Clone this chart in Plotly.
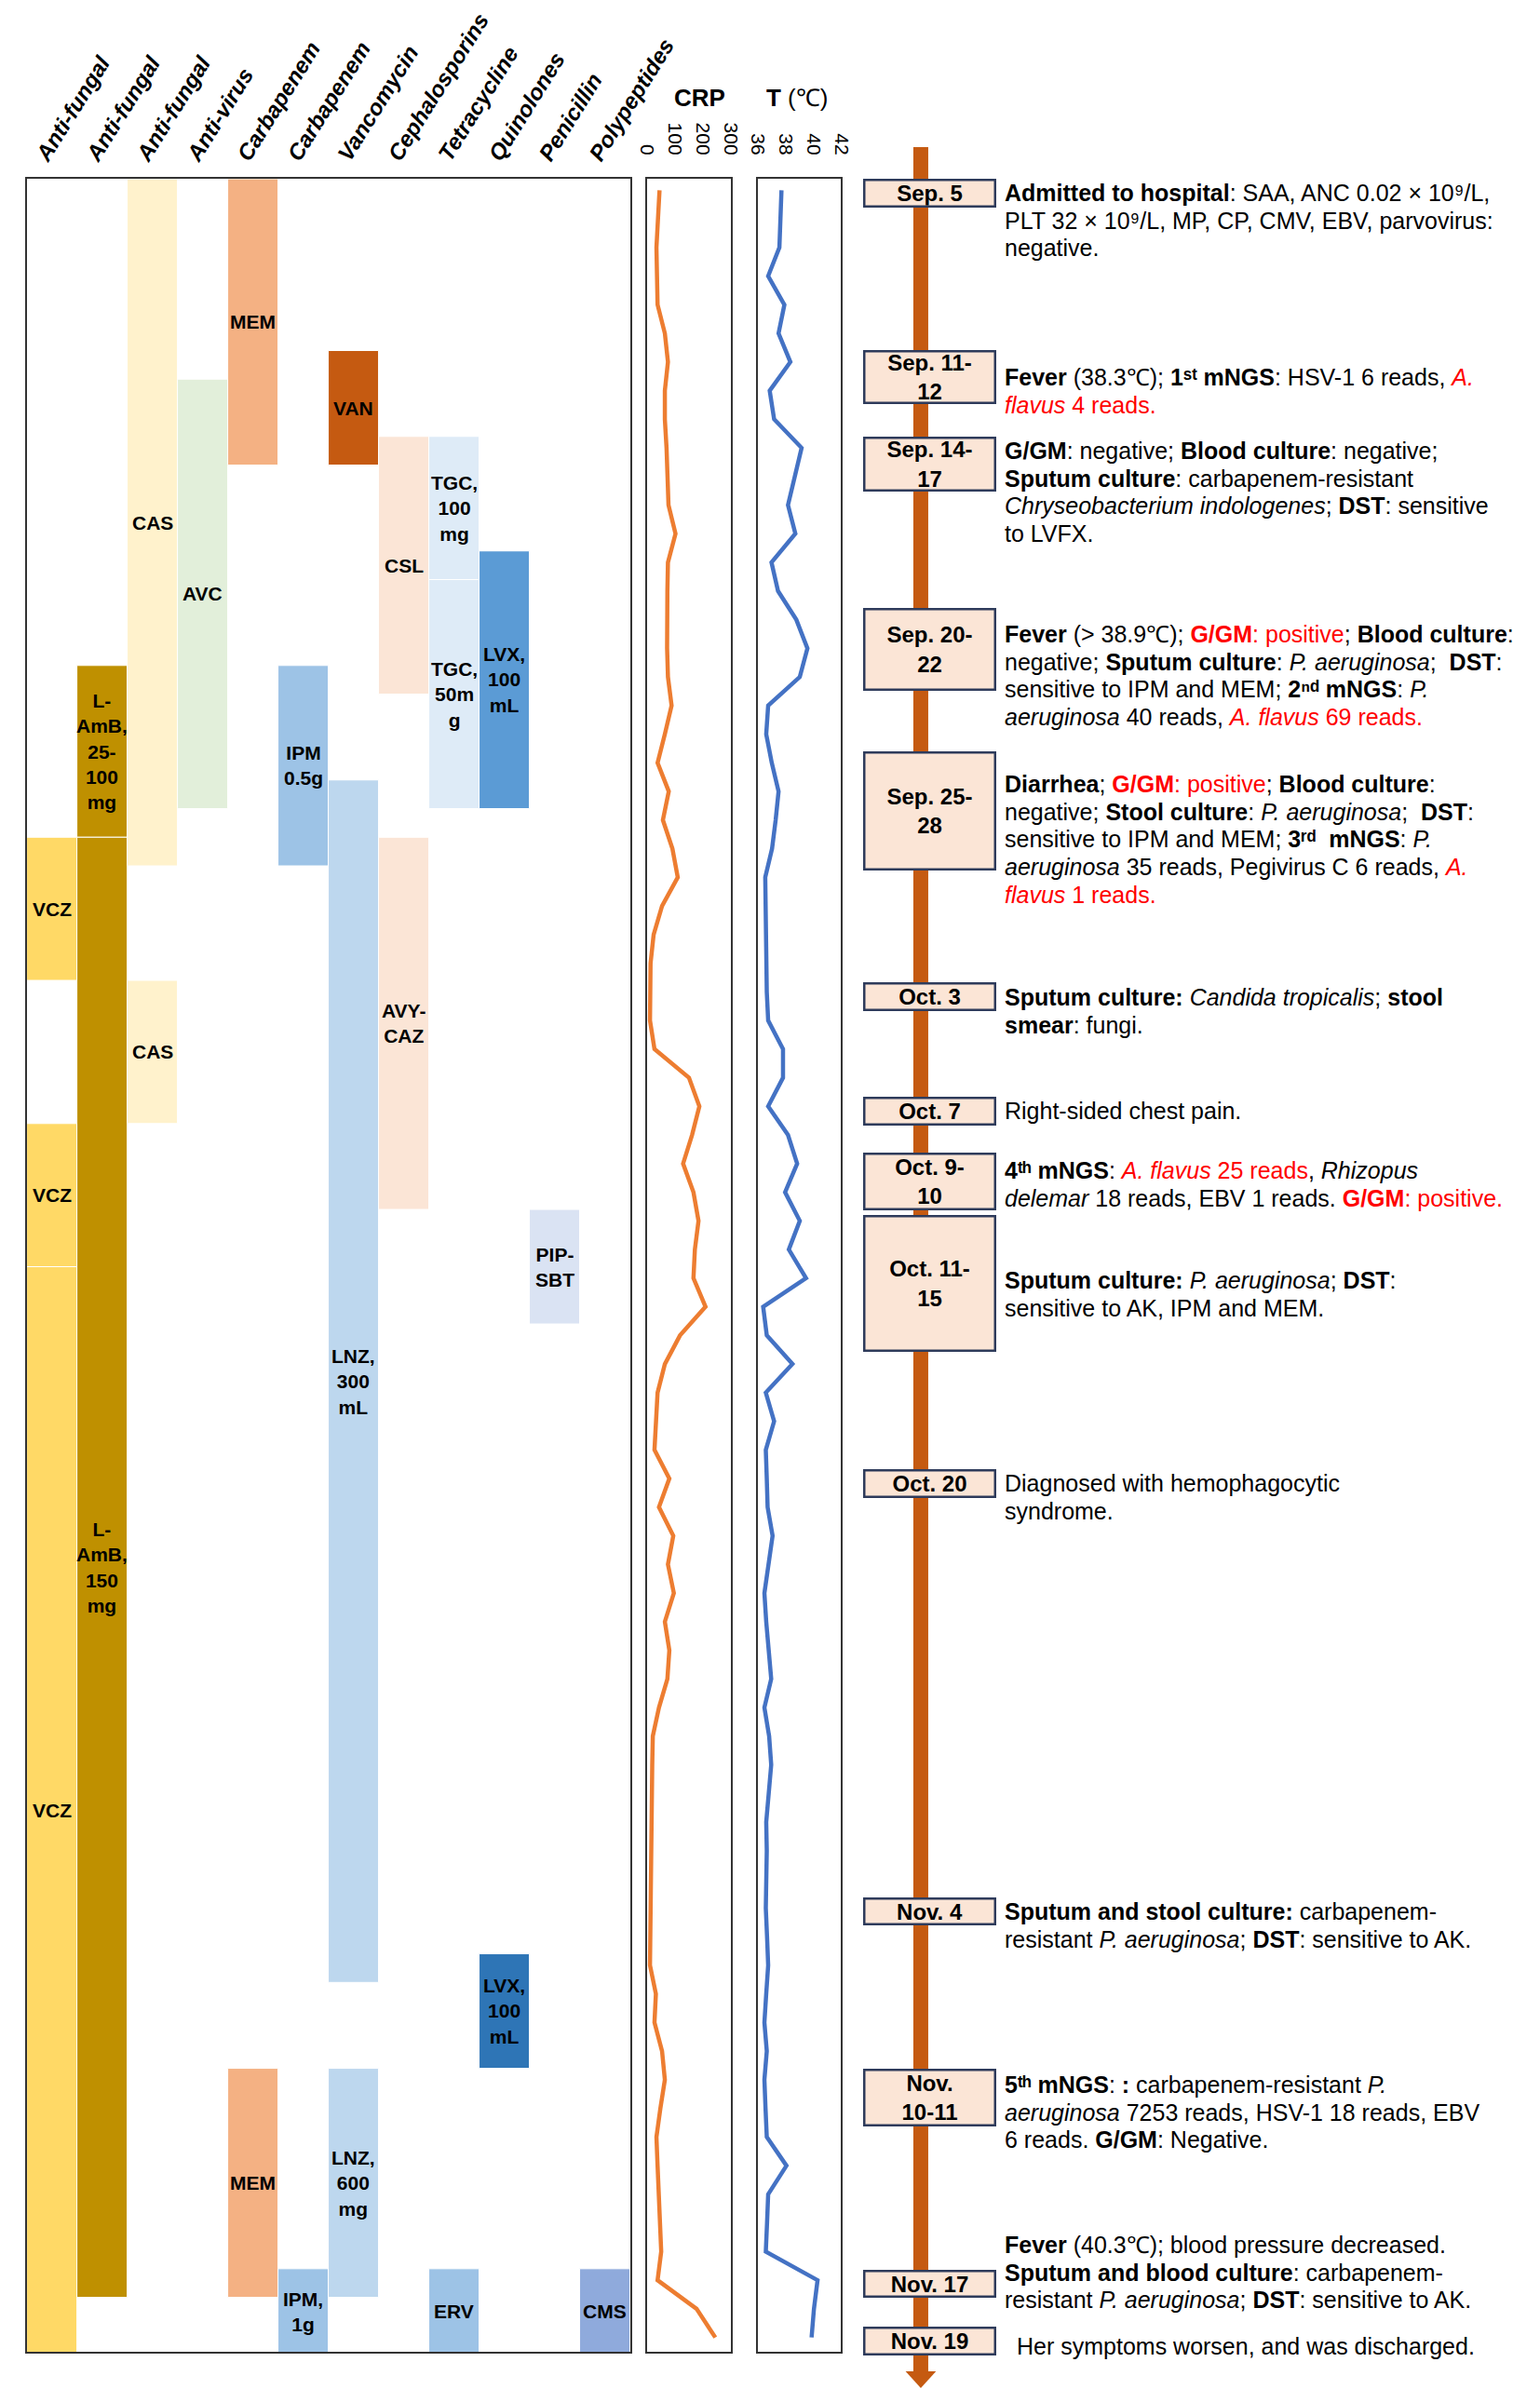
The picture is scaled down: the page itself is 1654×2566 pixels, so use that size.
import plotly.graph_objects as go

W, H = 1654, 2566
FONT = "Liberation Sans, Arial, Helvetica, sans-serif"

# ---------------- data ----------------
col_headers = ["Anti-fungal", "Anti-fungal", "Anti-fungal", "Anti-virus", "Carbapenem",
               "Carbapenem", "Vancomycin", "Cephalosporins", "Tetracycline", "Quinolones",
               "Penicillin", "Polypeptides"]

# drug courses (day 0 = Sep 5); first / last day inclusive
drug_label = ["VCZ", "VCZ", "VCZ",
              "L-<br>AmB,<br>25-<br>100<br>mg", "L-<br>AmB,<br>150<br>mg",
              "CAS", "CAS", "AVC", "MEM", "MEM",
              "IPM<br>0.5g", "IPM,<br>1g",
              "VAN", "LNZ,<br>300<br>mL", "LNZ,<br>600<br>mg",
              "CSL", "AVY-<br>CAZ",
              "TGC,<br>100<br>mg", "TGC,<br>50m<br>g", "ERV",
              "LVX,<br>100<br>mL", "LVX,<br>100<br>mL",
              "PIP-<br>SBT", "CMS"]
drug_column = [0, 0, 0, 1, 1, 2, 2, 3, 4, 4, 5, 5, 6, 6, 6, 7, 7, 8, 8, 8, 9, 9, 10, 11]
drug_first_day = [23, 33, 38, 17, 23, 0, 28, 7, 0, 66, 17, 73, 6, 21, 66, 9, 23, 9, 14, 73, 13, 62, 36, 73]
drug_last_day = [27, 37, 75, 22, 73, 23, 32, 21, 9, 73, 23, 75, 9, 62, 73, 17, 35, 13, 21, 75, 21, 65, 39, 75]
drug_color = ["#FFD966", "#FFD966", "#FFD966", "#BF9000", "#BF9000",
              "#FFF2CC", "#FFF2CC", "#E2EFDA", "#F4B183", "#F4B183",
              "#9DC3E6", "#9DC3E6", "#C55A11", "#BDD7EE", "#BDD7EE",
              "#FBE5D6", "#FBE5D6", "#DEEBF7", "#DEEBF7", "#9DC3E6",
              "#5B9BD5", "#2E75B6", "#DAE3F3", "#8FAADC"]

# daily measurements, day 0 = Sep 5 ... day 75 = Nov 19
day = list(range(76))
crp = [45, 38, 34, 36, 38, 64, 75, 64, 64, 70,
       73, 77, 102, 75, 73, 71, 72, 75, 88, 64,
       38, 78, 57, 91, 110, 54, 24, 13, 11, 11,
       27, 150, 187, 161, 129, 166, 184, 171, 166, 209,
       118, 64, 38, 32, 27, 80, 43, 94, 75, 96,
       64, 80, 73, 43, 21, 19, 18, 16, 14, 12,
       11, 11, 11, 32, 27, 54, 64, 48, 34, 38,
       43, 47, 51, 38, 177, 244]
temp = [37.70, 37.62, 37.55, 36.74, 37.91, 37.49, 38.34, 36.85, 37.17, 39.15,
        38.66, 38.17, 38.70, 36.98, 37.45, 38.77, 39.57, 39.02, 36.74, 36.60,
        37.00, 37.49, 37.28, 37.02, 36.53, 36.55, 36.57, 36.57, 36.64, 36.74,
        37.81, 37.81, 36.74, 38.17, 38.83, 37.96, 39.02, 38.23, 39.47, 36.38,
        36.64, 38.49, 36.57, 37.17, 36.57, 36.64, 36.70, 37.06, 36.74, 36.47,
        36.60, 36.79, 36.96, 36.47, 36.81, 36.96, 36.81, 36.60, 36.64, 36.62,
        36.57, 36.66, 36.74, 36.60, 36.47, 36.64, 36.47, 36.55, 36.64, 38.06,
        36.74, 36.66, 36.57, 40.30, 40.04, 39.87]
crp_ticks = [0, 100, 200, 300]
temp_ticks = [36, 38, 40, 42]

R = "<span style='color:#FF0000'>"
E = "</span>"
event_date = ["Sep. 5", "Sep. 11-<br>12", "Sep. 14-<br>17", "Sep. 20-<br>22", "Sep. 25-<br>28",
              "Oct. 3", "Oct. 7", "Oct. 9-<br>10", "Oct. 11-<br>15", "Oct. 20",
              "Nov. 4", "Nov.<br>10-11", "Nov. 17", "Nov. 19"]
event_text = [
    ["<b>Admitted to hospital</b>: SAA, ANC 0.02 × 10⁹/L,",
     "PLT 32 × 10⁹/L, MP, CP, CMV, EBV, parvovirus:",
     "negative."],
    ["<b>Fever</b> (38.3℃); <b>1ˢᵗ mNGS</b>: HSV-1 6 reads, " + R + "<i>A.</i>" + E,
     R + "<i>flavus</i> 4 reads." + E],
    ["<b>G/GM</b>: negative; <b>Blood culture</b>: negative;",
     "<b>Sputum culture</b>: carbapenem-resistant",
     "<i>Chryseobacterium indologenes</i>; <b>DST</b>: sensitive",
     "to LVFX."],
    ["<b>Fever</b> (> 38.9℃); " + R + "<b>G/GM</b>: positive" + E + "; <b>Blood culture</b>:",
     "negative; <b>Sputum culture</b>: <i>P. aeruginosa</i>;  <b>DST</b>:",
     "sensitive to IPM and MEM; <b>2ⁿᵈ mNGS</b>: <i>P.</i>",
     "<i>aeruginosa</i> 40 reads, " + R + "<i>A. flavus</i> 69 reads." + E],
    ["<b>Diarrhea</b>; " + R + "<b>G/GM</b>: positive" + E + "; <b>Blood culture</b>:",
     "negative; <b>Stool culture</b>: <i>P. aeruginosa</i>;  <b>DST</b>:",
     "sensitive to IPM and MEM; <b>3ʳᵈ  mNGS</b>: <i>P.</i>",
     "<i>aeruginosa</i> 35 reads, Pegivirus C 6 reads, " + R + "<i>A.</i>" + E,
     R + "<i>flavus</i> 1 reads." + E],
    ["<b>Sputum culture:</b> <i>Candida tropicalis</i>; <b>stool</b>",
     "<b>smear</b>: fungi."],
    ["Right-sided chest pain."],
    ["<b>4ᵗʰ mNGS</b>: " + R + "<i>A. flavus</i> 25 reads" + E + ", <i>Rhizopus</i>",
     "<i>delemar</i> 18 reads, EBV 1 reads. " + R + "<b>G/GM</b>: positive." + E],
    ["<b>Sputum culture:</b> <i>P. aeruginosa</i>; <b>DST</b>:",
     "sensitive to AK, IPM and MEM."],
    ["Diagnosed with hemophagocytic",
     "syndrome."],
    ["<b>Sputum and stool culture:</b> carbapenem-",
     "resistant <i>P. aeruginosa</i>; <b>DST</b>: sensitive to AK."],
    ["<b>5ᵗʰ mNGS</b>: <b>:</b> carbapenem-resistant <i>P.</i>",
     "<i>aeruginosa</i> 7253 reads, HSV-1 18 reads, EBV",
     "6 reads. <b>G/GM</b>: Negative."],
    ["<b>Fever</b> (40.3℃); blood pressure decreased.",
     "<b>Sputum and blood culture</b>: carbapenem-",
     "resistant <i>P. aeruginosa</i>; <b>DST</b>: sensitive to AK."],
    ["Her symptoms worsen, and was discharged."],
]

# ---------------- layout geometry (pixels) ----------------
box_center_px = [199, 397, 490, 689, 863, 1062, 1185, 1261, 1370, 1585, 2045, 2245, 2445, 2506]
box_height_px = [31, 58, 59, 89, 128, 31, 31, 62, 147, 31, 30, 62, 30, 31]
text_top_px = [199, 397, 476, 673, 834, 1063, 1185, 1249, 1367, 1585, 2045, 2231, 2403, 2512]
text_x_px = [1101] * 13 + [1114]
LINE_GAP = 29.7
CELL = 0.4           # a drug-day cell starts 0.4 day before the measurement point
Y_RANGE = [75.5, -0.4]
PANEL_TOP, PANEL_BOT = 184, 2518


def fx(p):
    return p / W


def fy(p):
    return 1 - p / H


fig = go.Figure()

# drug bars
fig.add_trace(go.Bar(
    x=drug_column,
    y=[e - s + 1 for s, e in zip(drug_first_day, drug_last_day)],
    base=[s - CELL for s in drug_first_day],
    width=1.0,
    marker=dict(color=drug_color, line=dict(color="white", width=1)),
    xaxis="x", yaxis="y", showlegend=False, hoverinfo="skip"))

for lbl, c, s, e in zip(drug_label, drug_column, drug_first_day, drug_last_day):
    fig.add_annotation(x=c, y=((s - CELL) + (e + 1 - CELL)) / 2, xref="x", yref="y",
                       text="<b>" + lbl + "</b>", showarrow=False,
                       xanchor="center", yanchor="middle",
                       font=dict(size=21, family=FONT, color="black"))

# CRP and temperature
fig.add_trace(go.Scatter(x=crp, y=day, mode="lines", line=dict(color="#ED7D31", width=4.5),
                         xaxis="x2", yaxis="y2", showlegend=False, hoverinfo="skip"))
fig.add_trace(go.Scatter(x=temp, y=day, mode="lines", line=dict(color="#4472C4", width=4.5),
                         xaxis="x3", yaxis="y3", showlegend=False, hoverinfo="skip"))

ydom = [fy(PANEL_BOT), fy(PANEL_TOP)]
box_line = dict(showline=True, mirror=True, linecolor="#333333", linewidth=2,
                showgrid=False, zeroline=False)
ax_common = dict(domain=ydom, range=Y_RANGE, showticklabels=False, ticks="", **box_line)

fig.update_layout(
    width=W, height=H, margin=dict(l=0, r=0, t=0, b=0), autosize=False,
    paper_bgcolor="white", plot_bgcolor="white", barmode="overlay", showlegend=False,
    font=dict(family=FONT, color="black"),
    xaxis=dict(domain=[fx(10), fx(684)], range=[-0.5, 11.5], anchor="y", side="top",
               tickmode="array", tickvals=list(range(12)), ticktext=col_headers,
               tickangle=-58, ticks="", ticklabelstandoff=0, ticklabelshift=-14,
               tickfont=dict(size=24, family=FONT, color="black", weight="bold", style="italic"),
               **box_line),
    yaxis=dict(anchor="x", **ax_common),
    xaxis2=dict(domain=[fx(703), fx(797)], range=[0, 300], anchor="y2", side="top",
                tickmode="array", tickvals=crp_ticks, tickangle=90, ticks="",
                ticklabelstandoff=16, tickfont=dict(size=21, family=FONT, color="black"),
                **box_line),
    yaxis2=dict(anchor="x2", **ax_common),
    xaxis3=dict(domain=[fx(827), fx(920)], range=[36, 42], anchor="y3", side="top",
                tickmode="array", tickvals=temp_ticks, tickangle=90, ticks="",
                ticklabelstandoff=16, tickfont=dict(size=21, family=FONT, color="black"),
                **box_line),
    yaxis3=dict(anchor="x3", **ax_common),
)

# panel titles
fig.add_annotation(x=fx(762), y=fy(97), xref="paper", yref="paper", text="<b>CRP</b>",
                   showarrow=False, xanchor="center", yanchor="middle",
                   font=dict(size=26, family=FONT, color="black"))
fig.add_annotation(x=fx(871), y=fy(97), xref="paper", yref="paper", text="<b>T</b> (℃)",
                   showarrow=False, xanchor="center", yanchor="middle",
                   font=dict(size=26, family=FONT, color="black"))

# timeline arrow
ARROW_X = 1009
shapes = [
    dict(type="line", xref="paper", yref="paper", x0=fx(ARROW_X), x1=fx(ARROW_X),
         y0=fy(150), y1=fy(2541), line=dict(color="#C55A11", width=16), layer="above"),
    dict(type="path", xref="paper", yref="paper",
         path=f"M {fx(ARROW_X - 17)},{fy(2539)} L {fx(ARROW_X + 17)},{fy(2539)} L {fx(ARROW_X)},{fy(2557)} Z",
         fillcolor="#C55A11", line=dict(color="#C55A11", width=0), layer="above"),
]
fig.update_layout(shapes=shapes)

# date boxes (annotation boxes)
BOX_X0, BOX_X1 = 947, 1090
BW = 2.5
for lbl, c, h in zip(event_date, box_center_px, box_height_px):
    txt = "<br>".join("<b>" + p + "</b>" for p in lbl.split("<br>"))
    fig.add_annotation(x=fx((BOX_X0 + BOX_X1) / 2), y=fy(c), xref="paper", yref="paper",
                       text=txt, showarrow=False, xanchor="center", yanchor="middle",
                       width=(BOX_X1 - BOX_X0) - 2 * BW, height=h - 2 * BW,
                       align="center", valign="middle",
                       bgcolor="#FBE5D6", bordercolor="#2E3B5B", borderwidth=BW, borderpad=0,
                       font=dict(size=24, family=FONT, color="black"))

for lines, y0, x0 in zip(event_text, text_top_px, text_x_px):
    for i, ln in enumerate(lines):
        fig.add_annotation(x=fx(x0), y=fy(y0 + i * LINE_GAP), xref="paper", yref="paper",
                           text=ln, showarrow=False, xanchor="left", yanchor="middle",
                           font=dict(size=25, family=FONT, color="black"))

fig.write_html("out.html")
